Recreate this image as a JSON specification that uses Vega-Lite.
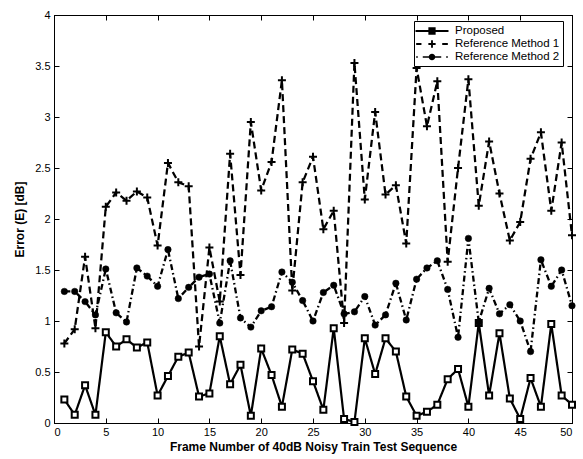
{
  "$schema": "https://vega.github.io/schema/vega-lite/v6.json",
  "width": 518,
  "height": 408,
  "autosize": {"type": "none"},
  "padding": {"left": 54, "top": 15, "right": 11, "bottom": 36},
  "background": "white",
  "config": {
    "font": "Liberation Sans",
    "view": {"stroke": "black", "strokeWidth": 1},
    "axis": {
      "domainColor": "black",
      "tickColor": "black",
      "tickSize": -5,
      "labelColor": "black",
      "labelFont": "Liberation Sans",
      "labelFontSize": 11,
      "titleFont": "Liberation Sans",
      "titleFontSize": 12,
      "titleFontWeight": "bold",
      "titleColor": "black",
      "grid": false
    }
  },
  "datasets": {
    "errors": [
      {"frame": 1, "series": "Proposed", "error": 0.23},
      {"frame": 2, "series": "Proposed", "error": 0.08},
      {"frame": 3, "series": "Proposed", "error": 0.37},
      {"frame": 4, "series": "Proposed", "error": 0.08},
      {"frame": 5, "series": "Proposed", "error": 0.89},
      {"frame": 6, "series": "Proposed", "error": 0.75},
      {"frame": 7, "series": "Proposed", "error": 0.82},
      {"frame": 8, "series": "Proposed", "error": 0.74},
      {"frame": 9, "series": "Proposed", "error": 0.79},
      {"frame": 10, "series": "Proposed", "error": 0.27},
      {"frame": 11, "series": "Proposed", "error": 0.46},
      {"frame": 12, "series": "Proposed", "error": 0.65},
      {"frame": 13, "series": "Proposed", "error": 0.69},
      {"frame": 14, "series": "Proposed", "error": 0.26},
      {"frame": 15, "series": "Proposed", "error": 0.29},
      {"frame": 16, "series": "Proposed", "error": 0.85},
      {"frame": 17, "series": "Proposed", "error": 0.38},
      {"frame": 18, "series": "Proposed", "error": 0.57},
      {"frame": 19, "series": "Proposed", "error": 0.07},
      {"frame": 20, "series": "Proposed", "error": 0.73},
      {"frame": 21, "series": "Proposed", "error": 0.47},
      {"frame": 22, "series": "Proposed", "error": 0.16},
      {"frame": 23, "series": "Proposed", "error": 0.72},
      {"frame": 24, "series": "Proposed", "error": 0.68},
      {"frame": 25, "series": "Proposed", "error": 0.41},
      {"frame": 26, "series": "Proposed", "error": 0.13},
      {"frame": 27, "series": "Proposed", "error": 0.93},
      {"frame": 28, "series": "Proposed", "error": 0.04},
      {"frame": 29, "series": "Proposed", "error": 0.01},
      {"frame": 30, "series": "Proposed", "error": 0.83},
      {"frame": 31, "series": "Proposed", "error": 0.48},
      {"frame": 32, "series": "Proposed", "error": 0.83},
      {"frame": 33, "series": "Proposed", "error": 0.70},
      {"frame": 34, "series": "Proposed", "error": 0.26},
      {"frame": 35, "series": "Proposed", "error": 0.07},
      {"frame": 36, "series": "Proposed", "error": 0.11},
      {"frame": 37, "series": "Proposed", "error": 0.18},
      {"frame": 38, "series": "Proposed", "error": 0.43},
      {"frame": 39, "series": "Proposed", "error": 0.53},
      {"frame": 40, "series": "Proposed", "error": 0.16},
      {"frame": 41, "series": "Proposed", "error": 0.98},
      {"frame": 42, "series": "Proposed", "error": 0.27},
      {"frame": 43, "series": "Proposed", "error": 0.88},
      {"frame": 44, "series": "Proposed", "error": 0.24},
      {"frame": 45, "series": "Proposed", "error": 0.04},
      {"frame": 46, "series": "Proposed", "error": 0.44},
      {"frame": 47, "series": "Proposed", "error": 0.16},
      {"frame": 48, "series": "Proposed", "error": 0.97},
      {"frame": 49, "series": "Proposed", "error": 0.27},
      {"frame": 50, "series": "Proposed", "error": 0.18},
      {"frame": 1, "series": "Reference Method 1", "error": 0.78},
      {"frame": 2, "series": "Reference Method 1", "error": 0.92},
      {"frame": 3, "series": "Reference Method 1", "error": 1.63},
      {"frame": 4, "series": "Reference Method 1", "error": 0.93},
      {"frame": 5, "series": "Reference Method 1", "error": 2.12},
      {"frame": 6, "series": "Reference Method 1", "error": 2.26},
      {"frame": 7, "series": "Reference Method 1", "error": 2.18},
      {"frame": 8, "series": "Reference Method 1", "error": 2.27},
      {"frame": 9, "series": "Reference Method 1", "error": 2.21},
      {"frame": 10, "series": "Reference Method 1", "error": 1.74},
      {"frame": 11, "series": "Reference Method 1", "error": 2.55},
      {"frame": 12, "series": "Reference Method 1", "error": 2.36},
      {"frame": 13, "series": "Reference Method 1", "error": 2.32},
      {"frame": 14, "series": "Reference Method 1", "error": 0.75},
      {"frame": 15, "series": "Reference Method 1", "error": 1.72},
      {"frame": 16, "series": "Reference Method 1", "error": 1.19},
      {"frame": 17, "series": "Reference Method 1", "error": 2.64},
      {"frame": 18, "series": "Reference Method 1", "error": 1.45},
      {"frame": 19, "series": "Reference Method 1", "error": 2.95},
      {"frame": 20, "series": "Reference Method 1", "error": 2.28},
      {"frame": 21, "series": "Reference Method 1", "error": 2.56},
      {"frame": 22, "series": "Reference Method 1", "error": 3.36},
      {"frame": 23, "series": "Reference Method 1", "error": 1.30},
      {"frame": 24, "series": "Reference Method 1", "error": 2.36},
      {"frame": 25, "series": "Reference Method 1", "error": 2.61},
      {"frame": 26, "series": "Reference Method 1", "error": 1.90},
      {"frame": 27, "series": "Reference Method 1", "error": 2.08},
      {"frame": 28, "series": "Reference Method 1", "error": 0.98},
      {"frame": 29, "series": "Reference Method 1", "error": 3.53},
      {"frame": 30, "series": "Reference Method 1", "error": 2.19},
      {"frame": 31, "series": "Reference Method 1", "error": 3.05},
      {"frame": 32, "series": "Reference Method 1", "error": 2.24},
      {"frame": 33, "series": "Reference Method 1", "error": 2.33},
      {"frame": 34, "series": "Reference Method 1", "error": 1.76},
      {"frame": 35, "series": "Reference Method 1", "error": 3.48},
      {"frame": 36, "series": "Reference Method 1", "error": 2.91},
      {"frame": 37, "series": "Reference Method 1", "error": 3.35},
      {"frame": 38, "series": "Reference Method 1", "error": 1.58},
      {"frame": 39, "series": "Reference Method 1", "error": 2.50},
      {"frame": 40, "series": "Reference Method 1", "error": 3.37},
      {"frame": 41, "series": "Reference Method 1", "error": 2.13},
      {"frame": 42, "series": "Reference Method 1", "error": 2.76},
      {"frame": 43, "series": "Reference Method 1", "error": 2.25},
      {"frame": 44, "series": "Reference Method 1", "error": 1.79},
      {"frame": 45, "series": "Reference Method 1", "error": 1.97},
      {"frame": 46, "series": "Reference Method 1", "error": 2.59},
      {"frame": 47, "series": "Reference Method 1", "error": 2.85},
      {"frame": 48, "series": "Reference Method 1", "error": 2.08},
      {"frame": 49, "series": "Reference Method 1", "error": 2.75},
      {"frame": 50, "series": "Reference Method 1", "error": 1.84},
      {"frame": 1, "series": "Reference Method 2", "error": 1.29},
      {"frame": 2, "series": "Reference Method 2", "error": 1.29},
      {"frame": 3, "series": "Reference Method 2", "error": 1.19},
      {"frame": 4, "series": "Reference Method 2", "error": 1.06},
      {"frame": 5, "series": "Reference Method 2", "error": 1.51},
      {"frame": 6, "series": "Reference Method 2", "error": 1.08},
      {"frame": 7, "series": "Reference Method 2", "error": 0.99},
      {"frame": 8, "series": "Reference Method 2", "error": 1.52},
      {"frame": 9, "series": "Reference Method 2", "error": 1.44},
      {"frame": 10, "series": "Reference Method 2", "error": 1.34},
      {"frame": 11, "series": "Reference Method 2", "error": 1.70},
      {"frame": 12, "series": "Reference Method 2", "error": 1.22},
      {"frame": 13, "series": "Reference Method 2", "error": 1.33},
      {"frame": 14, "series": "Reference Method 2", "error": 1.43},
      {"frame": 15, "series": "Reference Method 2", "error": 1.46},
      {"frame": 16, "series": "Reference Method 2", "error": 0.98},
      {"frame": 17, "series": "Reference Method 2", "error": 1.59},
      {"frame": 18, "series": "Reference Method 2", "error": 1.03},
      {"frame": 19, "series": "Reference Method 2", "error": 0.94},
      {"frame": 20, "series": "Reference Method 2", "error": 1.10},
      {"frame": 21, "series": "Reference Method 2", "error": 1.14},
      {"frame": 22, "series": "Reference Method 2", "error": 1.48},
      {"frame": 23, "series": "Reference Method 2", "error": 1.38},
      {"frame": 24, "series": "Reference Method 2", "error": 1.20},
      {"frame": 25, "series": "Reference Method 2", "error": 1.00},
      {"frame": 26, "series": "Reference Method 2", "error": 1.28},
      {"frame": 27, "series": "Reference Method 2", "error": 1.35},
      {"frame": 28, "series": "Reference Method 2", "error": 1.07},
      {"frame": 29, "series": "Reference Method 2", "error": 1.09},
      {"frame": 30, "series": "Reference Method 2", "error": 1.24},
      {"frame": 31, "series": "Reference Method 2", "error": 0.96},
      {"frame": 32, "series": "Reference Method 2", "error": 1.06},
      {"frame": 33, "series": "Reference Method 2", "error": 1.37},
      {"frame": 34, "series": "Reference Method 2", "error": 1.01},
      {"frame": 35, "series": "Reference Method 2", "error": 1.41},
      {"frame": 36, "series": "Reference Method 2", "error": 1.52},
      {"frame": 37, "series": "Reference Method 2", "error": 1.59},
      {"frame": 38, "series": "Reference Method 2", "error": 1.31},
      {"frame": 39, "series": "Reference Method 2", "error": 0.84},
      {"frame": 40, "series": "Reference Method 2", "error": 1.81},
      {"frame": 41, "series": "Reference Method 2", "error": 0.99},
      {"frame": 42, "series": "Reference Method 2", "error": 1.32},
      {"frame": 43, "series": "Reference Method 2", "error": 1.07},
      {"frame": 44, "series": "Reference Method 2", "error": 1.16},
      {"frame": 45, "series": "Reference Method 2", "error": 1.00},
      {"frame": 46, "series": "Reference Method 2", "error": 0.70},
      {"frame": 47, "series": "Reference Method 2", "error": 1.60},
      {"frame": 48, "series": "Reference Method 2", "error": 1.34},
      {"frame": 49, "series": "Reference Method 2", "error": 1.50},
      {"frame": 50, "series": "Reference Method 2", "error": 1.15}
    ]
  },
  "data": {"name": "errors"},
  "layer": [
    {
      "mark": {"type": "line", "color": "black"},
      "encoding": {
        "x": {
          "field": "frame", "type": "quantitative",
          "scale": {"domain": [0, 50], "nice": false},
          "axis": {"orient": "bottom", "values": [0, 5, 10, 15, 20, 25, 30, 35, 40, 45, 50], "title": "Frame Number of 40dB Noisy Train Test Sequence", "labelPadding": 8, "titlePadding": 4}
        },
        "y": {
          "field": "error", "type": "quantitative",
          "scale": {"domain": [0, 4], "nice": false},
          "axis": {"orient": "left", "values": [0, 0.5, 1, 1.5, 2, 2.5, 3, 3.5, 4], "format": ".1~f", "title": "Error (E) [dB]", "labelPadding": 9, "titlePadding": 8}
        },
        "strokeDash": {
          "field": "series", "type": "nominal",
          "scale": {"domain": ["Proposed", "Reference Method 1", "Reference Method 2"], "range": [[1, 0], [7, 4], [6, 3, 1.5, 3]]},
          "legend": null
        },
        "strokeWidth": {
          "field": "series", "type": "nominal",
          "scale": {"domain": ["Proposed", "Reference Method 1", "Reference Method 2"], "range": [2.2, 2.3, 1.7]},
          "legend": null
        }
      }
    },
    {
      "transform": [{"filter": "datum.series == 'Proposed'"}],
      "mark": {"type": "point", "shape": "square", "size": 36, "opacity": 1, "filled": false, "fill": "white", "stroke": "black", "strokeWidth": 2},
      "encoding": {
        "x": {"field": "frame", "type": "quantitative", "axis": null},
        "y": {"field": "error", "type": "quantitative", "axis": null}
      }
    },
    {
      "transform": [{"filter": "datum.series == 'Reference Method 1'"}],
      "mark": {"type": "point", "shape": "M-1,0H1M0,-1V1", "size": 64, "opacity": 1, "filled": false, "stroke": "black", "strokeWidth": 2},
      "encoding": {
        "x": {"field": "frame", "type": "quantitative", "axis": null},
        "y": {"field": "error", "type": "quantitative", "axis": null}
      }
    },
    {
      "transform": [{"filter": "datum.series == 'Reference Method 2'"}],
      "mark": {"type": "point", "shape": "circle", "size": 42, "opacity": 1, "filled": true, "fill": "black", "stroke": "black", "strokeWidth": 0.5},
      "encoding": {
        "x": {"field": "frame", "type": "quantitative", "axis": null},
        "y": {"field": "error", "type": "quantitative", "axis": null}
      }
    },
    {
      "mark": {"type": "point", "opacity": 0, "filled": true, "color": "black"},
      "encoding": {
        "x": {
          "field": "frame", "type": "quantitative",
          "axis": {"orient": "top", "values": [0, 5, 10, 15, 20, 25, 30, 35, 40, 45, 50], "labels": false, "title": null}
        },
        "y": {
          "field": "error", "type": "quantitative",
          "axis": {"orient": "right", "values": [0, 0.5, 1, 1.5, 2, 2.5, 3, 3.5, 4], "labels": false, "title": null}
        },
        "shape": {
          "field": "series", "type": "nominal",
          "scale": {
            "domain": ["Proposed", "Reference Method 1", "Reference Method 2"],
            "range": [
              "M-2.5,-0.16H2.5V0.16H-2.5ZM-0.55,-0.55H0.55V0.55H-0.55Z",
              "M-2.4,-0.14H-1.6V0.14H-2.4ZM-0.55,-0.14H0.55V0.14H-0.55ZM-0.14,-0.55H0.14V0.55H-0.14ZM1.55,-0.14H2.4V0.14H1.55Z",
              "M-2.4,-0.12H-2.15V0.12H-2.4ZM-1.4,-0.12H-0.45V0.12H-1.4ZM0.45,-0.12H1.4V0.12H0.45ZM2.15,-0.12H2.4V0.12H2.15ZM0.5,0A0.5,0.5,0,1,1,-0.5,0A0.5,0.5,0,1,1,0.5,0Z"
            ]
          },
          "legend": {
            "title": null,
            "orient": "none",
            "legendX": 360,
            "legendY": 6,
            "padding": 3,
            "rowPadding": 0,
            "strokeColor": "black",
            "fillColor": "white",
            "symbolSize": 174,
            "symbolStrokeWidth": 0,
            "symbolOffset": 8,
            "symbolOpacity": 1,
            "symbolFillColor": "black",
            "labelOffset": 16,
            "labelFont": "Liberation Sans",
            "labelFontSize": 11.5,
            "labelColor": "black"
          }
        }
      }
    }
  ],
  "resolve": {
    "scale": {"shape": "independent"},
    "axis": {"x": "independent", "y": "independent"}
  }
}
